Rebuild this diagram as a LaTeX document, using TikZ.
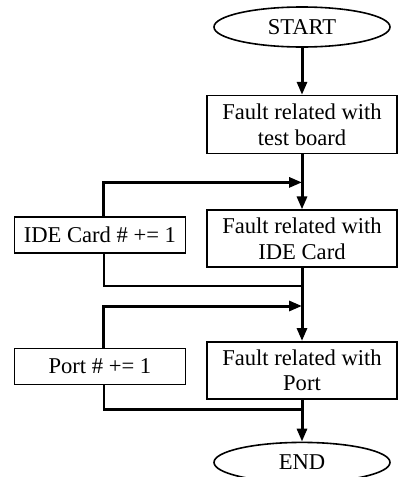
\documentclass[tikz,border=0pt]{standalone}
\usepackage{fontspec}
\setmainfont{Liberation Serif}
\usetikzlibrary{arrows.meta,positioning,shapes.geometric}

\begin{document}
\begin{tikzpicture}[
    font=\fontsize{11.3}{12.8}\selectfont,
    terminal/.style={draw, ellipse, line width=0.8pt, minimum width=88pt, minimum height=20pt, inner sep=0pt},
    process/.style={draw, line width=0.8pt, align=center, minimum width=95pt, minimum height=28.5pt, inner sep=2pt},
    counter/.style={draw, line width=0.8pt, align=center, minimum width=85.5pt, minimum height=18pt, inner sep=2pt},
    arrow/.style={-{Triangle[length=6.5pt,width=5pt]}, line width=1.5pt},
    link/.style={line width=1.4pt}
]
    \useasboundingbox (0,0) rectangle (199pt,-238.5pt);

    \node[terminal] (start) at (151pt,-13.5pt) {START};
    \node[process, below=23.5pt of start, minimum height=29pt] (board) {Fault related with\\test board};
    \node[process, below=27.5pt of board] (card) {Fault related with\\IDE Card};
    \node[process, below=36.5pt of card] (port) {Fault related with\\Port};
    \node[terminal, below=21pt of port] (end) {END};
    \node[counter, left=10pt of card, yshift=2pt] (cardinc) {IDE Card \# += 1};
    \node[counter, left=10pt of port, yshift=2pt] (portinc) {Port \# += 1};

    \coordinate (cardin) at ([yshift=-14pt]board.south);
    \coordinate (cardout) at ([yshift=-9pt]card.south);
    \coordinate (portin) at ([yshift=-19pt]card.south);
    \coordinate (portout) at ([yshift=-5pt]port.south);

    \draw[arrow] (start) -- (board);
    \draw[arrow] (board) -- (card);
    \draw[arrow] (card) -- (port);
    \draw[arrow] (port) -- (end);

    \draw[arrow] ([xshift=2pt]cardinc.north) |- (cardin);
    \draw[link] ([xshift=2pt]cardinc.south) |- (cardout);
    \draw[arrow] ([xshift=2pt]portinc.north) |- (portin);
    \draw[link] ([xshift=2pt]portinc.south) |- (portout);
\end{tikzpicture}
\end{document}
